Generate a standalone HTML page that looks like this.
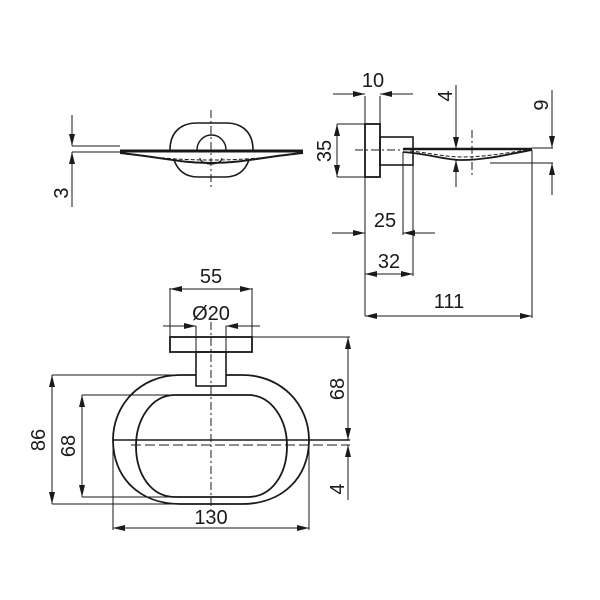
<!DOCTYPE html>
<html><head><meta charset="utf-8"><style>
html,body{margin:0;padding:0;background:#fff}
svg{display:block}
text{font-family:"Liberation Sans",sans-serif;font-size:20px;fill:#1a1a1a}
</style></head><body>
<svg width="600" height="600" viewBox="0 0 600 600" xmlns="http://www.w3.org/2000/svg">
<defs>
<marker id="a" viewBox="0 0 12 6" refX="12" refY="3" markerWidth="12" markerHeight="6" markerUnits="userSpaceOnUse" orient="auto"><path d="M0,0 L12,3 L0,6 z" fill="#1a1a1a"/></marker>
</defs>
<g stroke="#1a1a1a" fill="none" stroke-width="1">

<!-- TOP-LEFT VIEW -->
<path d="M170,150 C170,133 180,123 197,123 L226,123 C243,123 253,133 253,150" stroke-width="1.6"/>
<path d="M174,160 C178,171 186,177 198,177 L225,177 C237,177 245,171 249,160" stroke-width="1.6"/>
<path d="M197,150 A14.5,15 0 0 1 226,150" stroke-width="1.4"/>
<line x1="120" y1="151" x2="303" y2="151" stroke-width="3"/>
<path d="M120,153 C160,157 180,163 211,163 C242,163 262,157 303,153" stroke-width="2"/>
<path d="M125,154 C160,158 180,160 211,160 C242,160 262,158 298,154" stroke-width="1" stroke-dasharray="4,2"/>
<path d="M200,158 A11,6 0 0 0 222,158" stroke-width="1.2"/>
<line x1="211" y1="110" x2="211" y2="190" stroke-dasharray="8,3,2,3"/>
<line x1="72" y1="146" x2="120" y2="146"/>
<line x1="72" y1="152" x2="120" y2="152"/>
<line x1="72" y1="115" x2="72" y2="146" marker-end="url(#a)"/>
<line x1="72" y1="207" x2="72" y2="152" marker-end="url(#a)"/>

<!-- SIDE VIEW -->
<rect x="365" y="124" width="15" height="53" stroke-width="1.8"/>
<rect x="380" y="137" width="33" height="28" stroke-width="1.6"/>
<line x1="355" y1="150" x2="402" y2="150" stroke-dasharray="8,3,2,3"/>
<line x1="403" y1="149" x2="532" y2="149" stroke-width="2.5"/>
<path d="M403,152 C430,154 445,160 462,160 C485,160 505,155 532,150" stroke-width="1.8"/>
<path d="M410,151 C430,153 445,157 462,157 C485,157 505,153 528,150" stroke-dasharray="4,2"/>
<line x1="472" y1="130" x2="472" y2="175" stroke-dasharray="8,3,2,3"/>
<line x1="365" y1="96" x2="365" y2="124"/><line x1="380" y1="96" x2="380" y2="124"/>
<line x1="333" y1="94" x2="365" y2="94" marker-end="url(#a)"/>
<line x1="413" y1="94" x2="380" y2="94" marker-end="url(#a)"/>
<line x1="337" y1="124" x2="365" y2="124"/><line x1="337" y1="177" x2="365" y2="177"/>
<line x1="337" y1="150" x2="337" y2="124" marker-end="url(#a)"/>
<line x1="337" y1="150" x2="337" y2="177" marker-end="url(#a)"/>
<line x1="456" y1="85" x2="456" y2="149" marker-end="url(#a)"/>
<line x1="456" y1="187" x2="456" y2="160" marker-end="url(#a)"/>
<line x1="532" y1="148" x2="553" y2="148"/><line x1="490" y1="163" x2="553" y2="163"/>
<line x1="552" y1="90" x2="552" y2="148" marker-end="url(#a)"/>
<line x1="552" y1="195" x2="552" y2="163" marker-end="url(#a)"/>
<line x1="365" y1="177" x2="365" y2="316"/>
<line x1="403" y1="152" x2="403" y2="235"/>
<line x1="332" y1="233" x2="365" y2="233" marker-end="url(#a)"/>
<line x1="435" y1="233" x2="403" y2="233" marker-end="url(#a)"/>
<line x1="413" y1="165" x2="413" y2="276"/>
<line x1="389" y1="274" x2="365" y2="274" marker-end="url(#a)"/>
<line x1="389" y1="274" x2="413" y2="274" marker-end="url(#a)"/>
<line x1="532" y1="150" x2="532" y2="318"/>
<line x1="449" y1="316" x2="365" y2="316" marker-end="url(#a)"/>
<line x1="449" y1="316" x2="532" y2="316" marker-end="url(#a)"/>

<!-- BOTTOM VIEW -->
<rect x="170" y="337" width="82" height="15" stroke-width="1.8"/>
<rect x="196" y="352" width="30" height="34" stroke-width="1.6"/>
<path d="M196,375 L180,375 C140,375 113,405 113,440 C113,478 140,504 180,504 L242,504 C282,504 309,478 309,440 C309,405 282,375 242,375 L226,375" stroke-width="1.8"/>
<path d="M175,395 L248,395 C272,395 287,420 287,446 C287,474 272,497 248,497 L175,497 C151,497 136,474 136,446 C136,420 151,395 175,395 Z" stroke-width="1.8"/>
<line x1="113" y1="440" x2="350" y2="440" stroke-width="1.6"/>
<line x1="131" y1="445" x2="350" y2="445" stroke-dasharray="10,4"/>
<line x1="211" y1="322" x2="211" y2="510" stroke-dasharray="8,3,2,3"/>
<line x1="170" y1="288" x2="170" y2="337"/><line x1="252" y1="288" x2="252" y2="337"/>
<line x1="211" y1="289" x2="170" y2="289" marker-end="url(#a)"/>
<line x1="211" y1="289" x2="252" y2="289" marker-end="url(#a)"/>
<line x1="196" y1="326" x2="196" y2="352"/><line x1="226" y1="326" x2="226" y2="352"/>
<line x1="163" y1="326" x2="196" y2="326" marker-end="url(#a)"/>
<line x1="260" y1="326" x2="226" y2="326" marker-end="url(#a)"/>
<line x1="252" y1="337" x2="350" y2="337"/>
<line x1="348" y1="388" x2="348" y2="337" marker-end="url(#a)"/>
<line x1="348" y1="388" x2="348" y2="440" marker-end="url(#a)"/>
<line x1="348" y1="500" x2="348" y2="445" marker-end="url(#a)"/>
<line x1="52" y1="375" x2="196" y2="375"/><line x1="52" y1="504" x2="200" y2="504"/>
<line x1="52" y1="440" x2="52" y2="375" marker-end="url(#a)"/>
<line x1="52" y1="440" x2="52" y2="504" marker-end="url(#a)"/>
<line x1="82" y1="395" x2="180" y2="395"/><line x1="82" y1="497" x2="180" y2="497"/>
<line x1="82" y1="446" x2="82" y2="395" marker-end="url(#a)"/>
<line x1="82" y1="446" x2="82" y2="497" marker-end="url(#a)"/>
<line x1="113" y1="440" x2="113" y2="530"/><line x1="309" y1="440" x2="309" y2="530"/>
<line x1="211" y1="528" x2="113" y2="528" marker-end="url(#a)"/>
<line x1="211" y1="528" x2="309" y2="528" marker-end="url(#a)"/>
</g>

<g text-anchor="middle">
<text x="0" y="0" transform="translate(68,193) rotate(-90)">3</text>
<text x="373" y="87">10</text>
<text x="0" y="0" transform="translate(331,151) rotate(-90)">35</text>
<text x="0" y="0" transform="translate(452,96) rotate(-90)">4</text>
<text x="0" y="0" transform="translate(548,105) rotate(-90)">9</text>
<text x="385" y="227">25</text>
<text x="389" y="268">32</text>
<text x="449" y="308">111</text>
<text x="211" y="283">55</text>
<text x="211" y="320">Ø20</text>
<text x="0" y="0" transform="translate(344,389) rotate(-90)">68</text>
<text x="0" y="0" transform="translate(344,489) rotate(-90)">4</text>
<text x="0" y="0" transform="translate(45,440) rotate(-90)">86</text>
<text x="0" y="0" transform="translate(75,446) rotate(-90)">68</text>
<text x="211" y="524">130</text>
</g>
</svg>
</body></html>
